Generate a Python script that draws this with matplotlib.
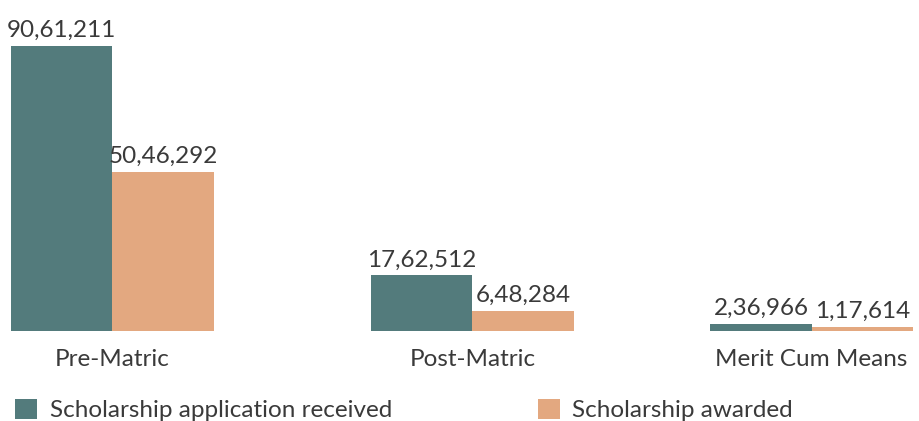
import numpy as np
import matplotlib.pyplot as plt

plt.rcParams["font.family"] = ["Lato", "DejaVu Sans"]

# ─── data ─────────────────────────────────────────
categories = ["Pre-Matric", "Post-Matric", "Merit Cum Means"]
received = [9061211, 1762512, 236966]
awarded = [5046292, 648284, 117614]
received_lbl = ["90,61,211", "17,62,512", "2,36,966"]
awarded_lbl = ["50,46,292", "6,48,284", "1,17,614"]
series_names = ["Scholarship application received", "Scholarship awarded"]
# ──────────────────────────────────────────────────

TEAL = "#537b7c"
ORANGE = "#e3a880"
TXT = "#3a3a3a"
W, H = 919, 421

fig = plt.figure(figsize=(W / 100, H / 100), dpi=100)
ax = fig.add_axes([11 / W, (H - 331) / H, (913 - 11) / W, (331 - 45.5) / H])

bw = 0.29
# group centres are not quite evenly spaced in the original
x = np.array([0.0, 1.03, 2.0])
b1 = ax.bar(x - bw / 2, received, bw, color=TEAL, label=series_names[0])
b2 = ax.bar(x + bw / 2, awarded, bw, color=ORANGE, label=series_names[1])

ax.set_xlim(-bw, x[-1] + bw)
ax.set_ylim(0, max(received))
ax.axis("off")

for bars, labels in ((b1, received_lbl), (b2, awarded_lbl)):
    for r, lab in zip(bars, labels):
        ax.annotate(lab, (r.get_x() + r.get_width() / 2, r.get_height()),
                    xytext=(0, 6.5), textcoords="offset points",
                    ha="center", va="baseline", fontsize=17.5, color=TXT,
                    annotation_clip=False)

for xi, cat in zip(x, categories):
    ax.annotate(cat, (xi, 0), xytext=(0, -25.5), textcoords="offset points",
                ha="center", va="baseline", fontsize=17.5, color=TXT,
                annotation_clip=False)

fig.legend(handles=[b1, b2], labels=series_names, loc="lower left",
           bbox_to_anchor=(-7 / W, -22 / H), ncol=2, frameon=False,
           fontsize=17.5, labelcolor=TXT, handlelength=0.93, handleheight=0.9,
           handletextpad=0.5, columnspacing=6.0)

fig.savefig("out.png", dpi=100)
